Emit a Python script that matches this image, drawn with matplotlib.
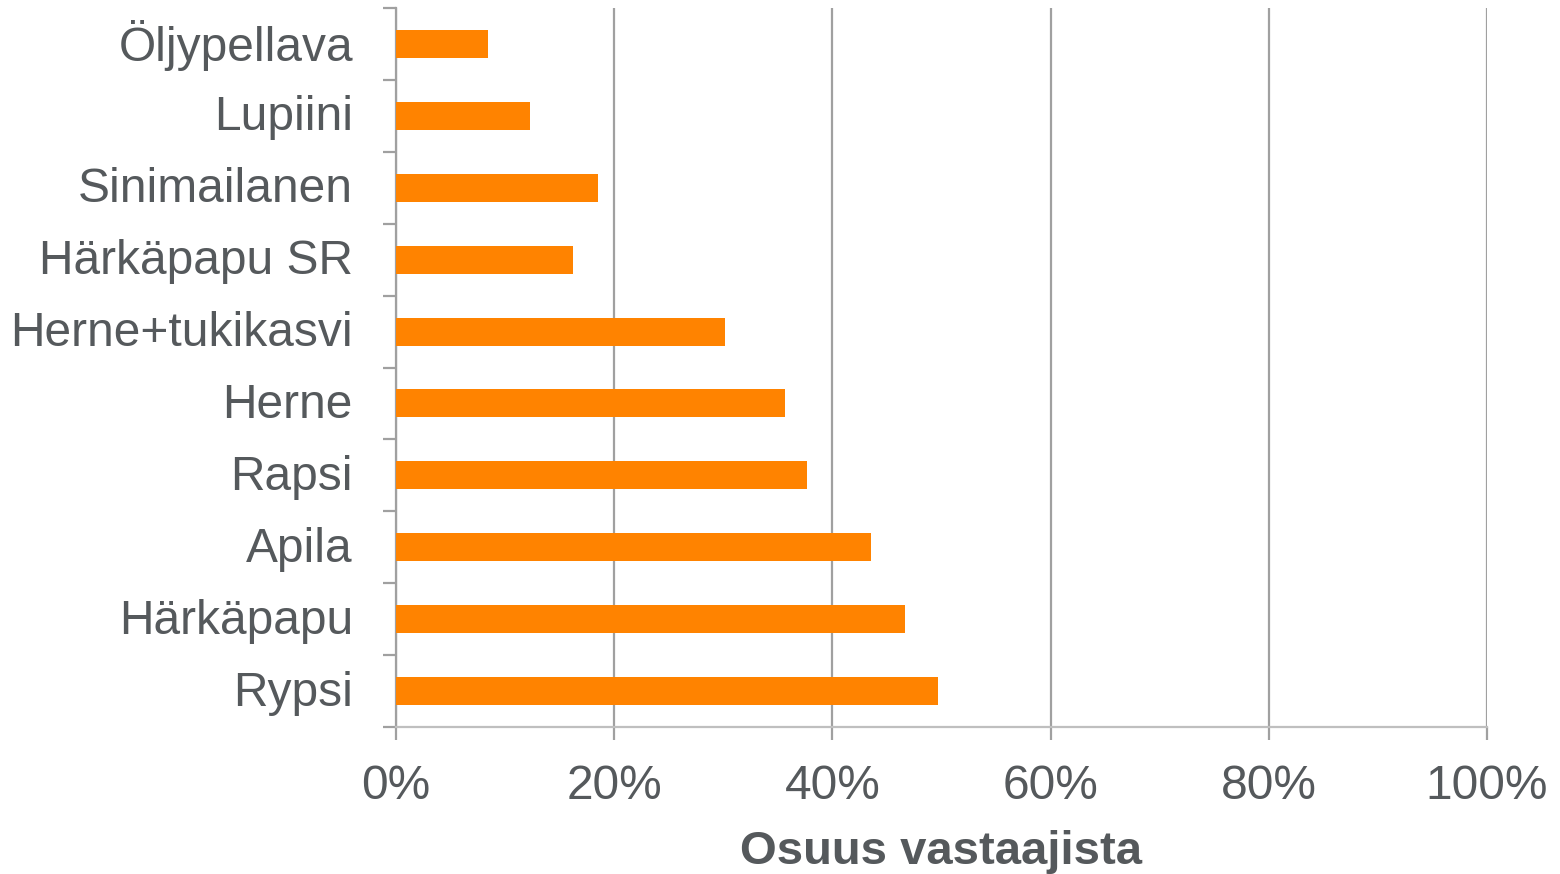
import matplotlib
matplotlib.use("Agg")
import matplotlib.pyplot as plt
import matplotlib.transforms as mtransforms
import numpy as np

plt.rcParams['font.family'] = ['Liberation Sans', 'DejaVu Sans']

crops = ["Rypsi", "Härkäpapu", "Apila", "Rapsi", "Herne", "Herne+tukikasvi",
         "Härkäpapu SR", "Sinimailanen", "Lupiini", "Öljypellava"]
shares = [49.7, 46.7, 43.5, 37.7, 35.7, 30.2, 16.2, 18.5, 12.3, 8.4]
xticks = [0, 20, 40, 60, 80, 100]

text_col = "#55595c"
line_col = "#a0a0a0"

fig = plt.figure(figsize=(15.6, 8.74), dpi=100)
ax = fig.add_axes([396 / 1560, 1 - 727 / 874, (1487 - 396) / 1560, (727 - 8) / 874])

y = np.arange(len(crops))
ax.barh(y, shares, height=0.39, color="#ff8300", zorder=3)

ax.set_xlim(0, 100)
ax.set_ylim(-0.5, len(crops) - 0.5)
ax.set_xticks(xticks)
ax.set_xticklabels([f"{v}%" for v in xticks])
ax.set_yticks(y)
ax.set_yticklabels(crops)
ax.set_yticks(np.arange(-0.5, len(crops), 1), minor=True)

ax.grid(axis="x", color=line_col, linewidth=1.6, zorder=0)
for s in ["top", "right"]:
    ax.spines[s].set_visible(False)
ax.spines["left"].set_color(line_col)
ax.spines["left"].set_linewidth(1.6)
ax.spines["bottom"].set_color("#bfbfbf")
ax.spines["bottom"].set_linewidth(1.6)

ax.tick_params(axis="y", which="major", length=0, pad=31, labelsize=34.5, labelcolor=text_col)
ax.tick_params(axis="y", which="minor", length=9.4, width=1.6, color=line_col)
ax.tick_params(axis="x", length=9.4, width=1.6, color=line_col, pad=17,
               labelsize=34.5, labelcolor=text_col)

# nudge category labels up a little
shift = mtransforms.ScaledTranslation(0, 3 / 100, fig.dpi_scale_trans)
for lbl in ax.get_yticklabels():
    lbl.set_transform(lbl.get_transform() + shift)

ax.set_xlabel("Osuus vastaajista", fontsize=34, fontweight="bold", color=text_col, labelpad=15)

fig.savefig("out.png", dpi=100)
